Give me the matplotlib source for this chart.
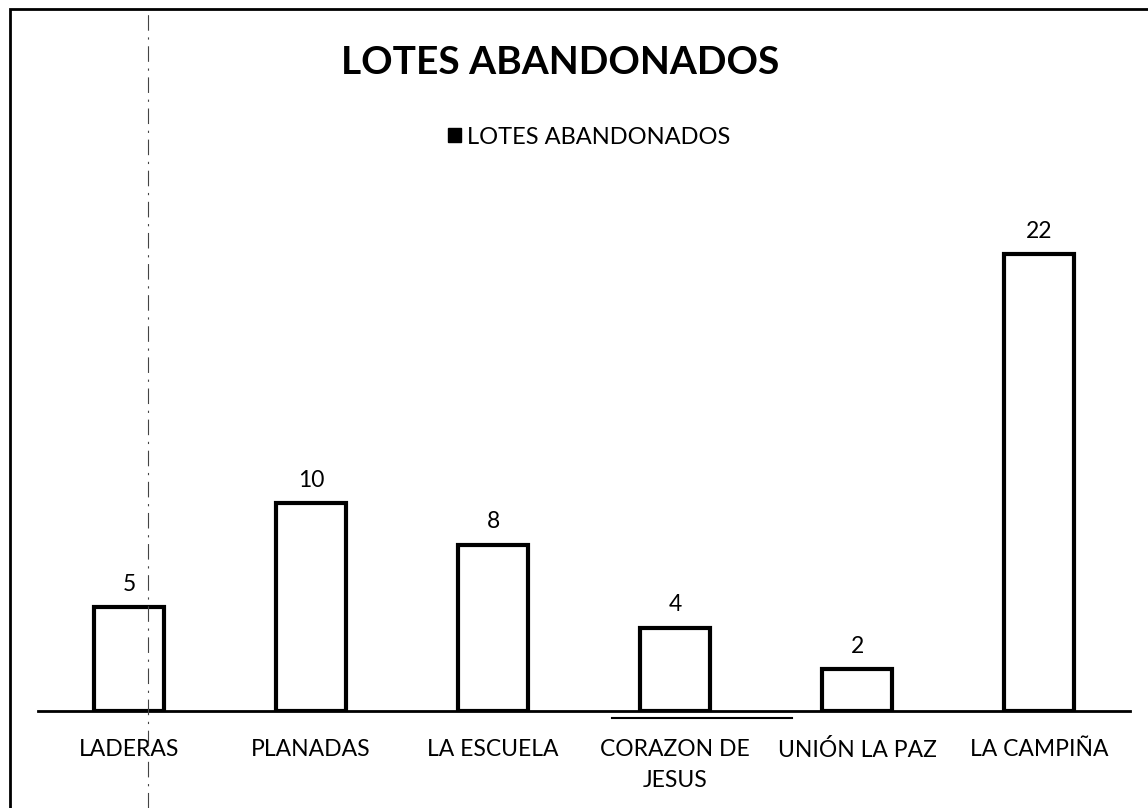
import matplotlib
matplotlib.use("Agg")
import matplotlib.pyplot as plt
from matplotlib.patches import Rectangle
from matplotlib.lines import Line2D

categories = ["LADERAS", "PLANADAS", "LA ESCUELA", "CORAZON DE\nJESUS", "UNIÓN LA PAZ", "LA CAMPIÑA"]
values = [5, 10, 8, 4, 2, 22]
title = "LOTES ABANDONADOS"
series_name = "LOTES ABANDONADOS"

plt.rcParams['font.family'] = ['Lato', 'DejaVu Sans']

fig = plt.figure(figsize=(11.48, 8.08), dpi=100, facecolor="white")
ax = fig.add_axes([38/1148, 1 - 711/808, (1130-38)/1148, (711-212.5)/808])

x = range(len(categories))
bars = ax.bar(x, values, width=0.38, facecolor="white", edgecolor="black",
              linewidth=3, label=series_name)
for b, v in zip(bars, values):
    ax.text(b.get_x() + b.get_width()/2, v + 0.6, str(v), ha="center", va="bottom",
            fontsize=16.5)

ax.set_xlim(-0.5, 5.5)
ax.set_ylim(0, 24)
ax.set_xticks(list(x))
ax.set_xticklabels(categories, fontsize=16.5, linespacing=1.6)
ax.tick_params(axis="x", length=0, pad=20)
ax.set_yticks([])
for s in ["left", "right", "top"]:
    ax.spines[s].set_visible(False)
ax.spines["bottom"].set_linewidth(2)

fig.text(0.488, 1 - 63/808, title, ha="center", va="center", fontsize=28, fontweight="bold")
leg = ax.legend(loc="center", bbox_to_anchor=(0.513, 1 - 137/808), bbox_transform=fig.transFigure,
                frameon=False, fontsize=17, handlelength=0.55, handleheight=0.55, handletextpad=0.25)
for h in leg.legend_handles:
    h.set_facecolor("black")
    h.set_linewidth(1)

# frame around the chart
fig.add_artist(Rectangle((10/1148, -0.01), 1.02, 1 - 9/808 + 0.01, transform=fig.transFigure,
                         fill=False, edgecolor="black", linewidth=2))
# scan marks
fig.add_artist(Line2D([148/1148, 148/1148], [0, 1 - 9/808], transform=fig.transFigure,
                      color="#444444", linewidth=0.8, linestyle=(0, (14, 6, 2, 6))))
fig.add_artist(Line2D([612/1148, 792/1148], [1 - 718/808, 1 - 718/808], transform=fig.transFigure,
                      color="black", linewidth=1.5))

fig.savefig("out.png", dpi=100, facecolor="white")
